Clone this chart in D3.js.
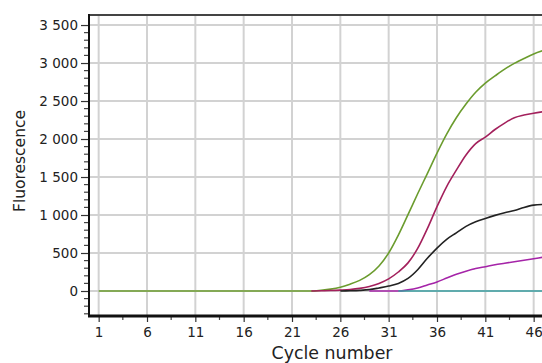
<!DOCTYPE html>
<html>
<head>
<meta charset="utf-8">
<script src="https://cdn.jsdelivr.net/npm/d3@7"></script>
<style>
  body { margin: 0; background: #fff; }
  text { font-family: "DejaVu Sans", sans-serif; fill: #222; }
</style>
</head>
<body>
<div id="plot"></div>
<script>
// chart data
const cycles = [1,2,3,4,5,6,7,8,9,10,11,12,13,14,15,16,17,18,19,20,21,22,23,24,25,26,27,28,29,30,31,32,33,34,35,36,37,38,39,40,41,42,43,44,45,46,47];
const xTicks = [1, 6, 11, 16, 21, 26, 31, 36, 41, 46];
const yTicks = [0, 500, 1000, 1500, 2000, 2500, 3000, 3500];

const N = null;
const green   = [0,0,0,0,0,0,0,0,0,0,0,0,0,0,0,0,0,0,0,0,0,0,0,10,25,50,90,140,215,330,500,735,1005,1280,1545,1815,2065,2280,2460,2615,2735,2830,2920,2995,3060,3120,3165];
const crimson = [N,N,N,N,N,N,N,N,N,N,N,N,N,N,N,N,N,N,N,N,N,N,0,3,6,12,20,35,60,100,160,250,370,560,820,1110,1375,1590,1790,1940,2025,2125,2210,2280,2315,2340,2360];
const black   = [N,N,N,N,N,N,N,N,N,N,N,N,N,N,N,N,N,N,N,N,N,N,N,N,N,0,3,8,18,40,65,100,165,280,430,565,680,765,850,910,955,995,1030,1060,1100,1130,1140];
const purple  = [N,N,N,N,N,N,N,N,N,N,N,N,N,N,N,N,N,N,N,N,N,N,N,N,N,N,N,N,0,0,0,0,15,40,80,120,170,220,260,295,320,345,365,385,405,425,445];
const teal    = [N,N,N,N,N,N,N,N,N,N,N,N,N,N,N,N,N,N,N,N,N,N,N,N,N,N,N,N,N,N,N,0,0,0,0,0,0,0,0,0,0,0,0,0,0,0,0];

const series = [
  {name: "green",   color: "#6b9c2e", values: green},
  {name: "crimson", color: "#a3205c", values: crimson},
  {name: "black",   color: "#222222", values: black},
  {name: "purple",  color: "#a524a8", values: purple},
  {name: "teal",    color: "#3a9ea0", values: teal}
];

const width = 542, height = 363;
const plot = {left: 89, top: 15, right: 553, bottom: 316};

var svg = d3.select("#plot")
  .append("svg")
  .attr("width", width)
  .attr("height", height);

var x = d3.scaleLinear()
  .domain([0, 48])
  .range([plot.left, plot.right]);

var y = d3.scaleLinear()
  .domain([-329, 3632])
  .range([plot.bottom, plot.top]);

const fmt = d3.formatLocale({decimal: ".", thousands: " ", grouping: [3], currency: ["", ""]}).format(",d");

// grid
svg.append("g")
  .selectAll("line.vg")
  .data(xTicks)
  .enter()
  .append("line")
    .attr("x1", d => x(d)).attr("x2", d => x(d))
    .attr("y1", plot.top).attr("y2", plot.bottom)
    .attr("stroke", "#d2d2d2")
    .attr("stroke-width", 2);

svg.append("g")
  .selectAll("line.hg")
  .data(yTicks)
  .enter()
  .append("line")
    .attr("x1", plot.left).attr("x2", width)
    .attr("y1", d => y(d)).attr("y2", d => y(d))
    .attr("stroke", "#d2d2d2")
    .attr("stroke-width", 2);

// curves
svg.append("clipPath")
  .attr("id", "clip")
  .append("rect")
    .attr("x", plot.left).attr("y", plot.top)
    .attr("width", width - plot.left).attr("height", plot.bottom - plot.top);

var line = d3.line()
  .defined(d => d[1] !== null)
  .curve(d3.curveMonotoneX)
  .x(d => x(d[0]))
  .y(d => y(d[1]));

svg.append("g")
  .attr("clip-path", "url(#clip)")
  .selectAll("path")
  .data(series)
  .enter()
  .append("path")
    .attr("d", s => line(cycles.map((c, i) => [c, s.values[i]])))
    .attr("fill", "none")
    .attr("stroke", s => s.color)
    .attr("stroke-width", 1.6);

// top border
svg.append("line")
  .attr("x1", plot.left).attr("x2", width)
  .attr("y1", plot.top).attr("y2", plot.top)
  .attr("stroke", "#444")
  .attr("stroke-width", 2);

// Y axis
var yAxis = svg.append("g")
  .attr("transform", "translate(" + plot.left + ",0)")
  .call(d3.axisLeft(y).tickValues(yTicks).tickFormat(fmt).tickSize(8).tickPadding(3));
yAxis.select(".domain").remove();
yAxis.selectAll("text").style("font-size", "13.5px").attr("dy", "0.36em");
yAxis.selectAll("line").attr("stroke", "#333").attr("stroke-width", 1.2);

const yMinor = d3.range(-300, 3600, 100).filter(v => v % 500 !== 0);
svg.append("g")
  .selectAll("line")
  .data(yMinor)
  .enter()
  .append("line")
    .attr("x1", plot.left - 5).attr("x2", plot.left)
    .attr("y1", d => y(d)).attr("y2", d => y(d))
    .attr("stroke", "#444")
    .attr("stroke-width", 1.2);

svg.append("line")
  .attr("x1", plot.left).attr("x2", plot.left)
  .attr("y1", plot.top - 1).attr("y2", plot.bottom)
  .attr("stroke", "#111")
  .attr("stroke-width", 2);

// X axis
var xAxis = svg.append("g")
  .attr("transform", "translate(0," + plot.bottom + ")")
  .call(d3.axisBottom(x).tickValues(xTicks).tickFormat(d3.format("d")).tickSize(6).tickPadding(5));
xAxis.select(".domain").remove();
xAxis.selectAll("text").style("font-size", "13.5px");
xAxis.selectAll("line").attr("stroke", "#333").attr("stroke-width", 1.2);

const xMinor = xTicks.map(d => d + 2.5);
svg.append("g")
  .selectAll("line")
  .data(xMinor)
  .enter()
  .append("line")
    .attr("x1", d => x(d)).attr("x2", d => x(d))
    .attr("y1", plot.bottom).attr("y2", plot.bottom + 4)
    .attr("stroke", "#444")
    .attr("stroke-width", 1.2);

svg.append("line")
  .attr("x1", plot.left - 1).attr("x2", width)
  .attr("y1", plot.bottom).attr("y2", plot.bottom)
  .attr("stroke", "#111")
  .attr("stroke-width", 3);

// axis titles
svg.append("text")
  .attr("x", 332)
  .attr("y", 359)
  .attr("text-anchor", "middle")
  .style("font-size", "17px")
  .attr("textLength", 121)
  .attr("lengthAdjust", "spacingAndGlyphs")
  .text("Cycle number");

svg.append("text")
  .attr("transform", "translate(25,161) rotate(-90)")
  .attr("text-anchor", "middle")
  .style("font-size", "15.5px")
  .attr("textLength", 102)
  .attr("lengthAdjust", "spacingAndGlyphs")
  .text("Fluorescence");
</script>
</body>
</html>
